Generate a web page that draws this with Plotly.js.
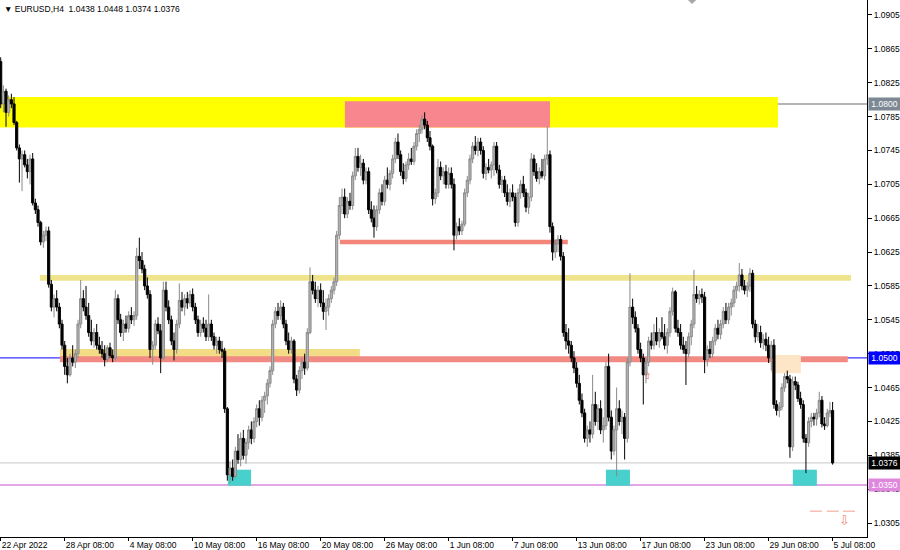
<!DOCTYPE html>
<html>
<head>
<meta charset="utf-8">
<script src="https://cdn.plot.ly/plotly-3.0.1.min.js"></script>
<style>html,body{margin:0;padding:0;background:#fff;}#chart{width:900px;height:550px;}</style>
</head>
<body>
<div id="chart"></div>
<script>
// EURUSD H4, 22 Apr 2022 08:00 .. 5 Jul 2022 08:00 (313 bars)
const open = [
1.0850,1.0800,1.0815,1.0790,1.0805,1.0800,1.0778,1.0748,1.0735,1.0740,
1.0728,1.0720,1.0735,1.0683,1.0675,1.0660,1.0637,1.0645,1.0650,1.0587,
1.0560,1.0570,1.0560,1.0540,1.0515,1.0490,1.0480,1.0500,1.0495,1.0505,
1.0540,1.0570,1.0560,1.0550,1.0530,1.0520,1.0530,1.0515,1.0510,1.0505,
1.0498,1.0512,1.0503,1.0500,1.0570,1.0545,1.0530,1.0540,1.0535,1.0550,
1.0545,1.0550,1.0620,1.0615,1.0605,1.0585,1.0575,1.0510,1.0515,1.0540,
1.0532,1.0500,1.0580,1.0560,1.0545,1.0520,1.0510,1.0540,1.0568,1.0560,
1.0570,1.0565,1.0575,1.0560,1.0545,1.0530,1.0540,1.0535,1.0525,1.0540,
1.0525,1.0515,1.0520,1.0510,1.0508,1.0440,1.0362,1.0370,1.0360,1.0390,
1.0380,1.0405,1.0385,1.0400,1.0415,1.0405,1.0425,1.0440,1.0430,1.0450,
1.0455,1.0470,1.0485,1.0540,1.0555,1.0550,1.0560,1.0540,1.0520,1.0510,
1.0520,1.0475,1.0462,1.0485,1.0495,1.0488,1.0530,1.0590,1.0580,1.0570,
1.0580,1.0565,1.0555,1.0560,1.0570,1.0580,1.0590,1.0645,1.0680,1.0690,
1.0670,1.0685,1.0680,1.0715,1.0738,1.0725,1.0730,1.0710,1.0720,1.0675,
1.0665,1.0655,1.0675,1.0695,1.0685,1.0710,1.0705,1.0718,1.0735,1.0755,
1.0740,1.0720,1.0712,1.0728,1.0735,1.0732,1.0750,1.0765,1.0770,1.0782,
1.0775,1.0760,1.0750,1.0688,1.0695,1.0725,1.0715,1.0720,1.0705,1.0718,
1.0705,1.0645,1.0655,1.0650,1.0658,1.0695,1.0710,1.0735,1.0750,1.0745,
1.0755,1.0745,1.0718,1.0725,1.0722,1.0728,1.0750,1.0722,1.0705,1.0710,
1.0695,1.0685,1.0695,1.0690,1.0660,1.0695,1.0705,1.0695,1.0678,1.0690,
1.0735,1.0720,1.0712,1.0720,1.0715,1.0735,1.0740,1.0655,1.0625,1.0635,
1.0640,1.0620,1.0530,1.0520,1.0515,1.0500,1.0488,1.0470,1.0450,1.0435,
1.0405,1.0415,1.0410,1.0445,1.0425,1.0440,1.0415,1.0420,1.0490,1.0430,
1.0390,1.0415,1.0440,1.0425,1.0430,1.0405,1.0495,1.0560,1.0548,1.0535,
1.0510,1.0500,1.0480,1.0495,1.0520,1.0515,1.0530,1.0520,1.0530,1.0525,
1.0515,1.0530,1.0555,1.0578,1.0535,1.0530,1.0515,1.0510,1.0505,1.0525,
1.0540,1.0575,1.0570,1.0575,1.0572,1.0498,1.0510,1.0505,1.0520,1.0535,
1.0528,1.0540,1.0555,1.0545,1.0560,1.0565,1.0580,1.0585,1.0598,1.0585,
1.0580,1.0585,1.0600,1.0540,1.0525,1.0530,1.0518,1.0522,1.0515,1.0500,
1.0515,1.0445,1.0438,1.0442,1.0465,1.0478,1.0475,1.0395,1.0472,1.0468,
1.0452,1.0445,1.0405,1.0400,1.0425,1.0430,1.0428,1.0435,1.0450,1.0422,
1.0420,1.0435,1.0438
];
const high = [
1.0855,1.0822,1.0818,1.0810,1.0812,1.0808,1.0780,1.0752,1.0745,1.0745,
1.0735,1.0740,1.0742,1.0688,1.0680,1.0662,1.0650,1.0655,1.0655,1.0592,
1.0575,1.0580,1.0565,1.0545,1.0520,1.0500,1.0505,1.0515,1.0510,1.0545,
1.0592,1.0580,1.0585,1.0565,1.0545,1.0535,1.0540,1.0525,1.0520,1.0515,
1.0515,1.0518,1.0510,1.0580,1.0575,1.0552,1.0545,1.0550,1.0555,1.0560,
1.0555,1.0630,1.0642,1.0625,1.0610,1.0595,1.0580,1.0520,1.0545,1.0548,
1.0540,1.0590,1.0590,1.0568,1.0550,1.0530,1.0545,1.0588,1.0578,1.0575,
1.0578,1.0580,1.0582,1.0565,1.0550,1.0545,1.0548,1.0545,1.0575,1.0545,
1.0530,1.0525,1.0525,1.0520,1.0512,1.0442,1.0378,1.0380,1.0395,1.0410,
1.0412,1.0415,1.0405,1.0420,1.0425,1.0430,1.0445,1.0450,1.0455,1.0460,
1.0475,1.0490,1.0545,1.0560,1.0565,1.0568,1.0565,1.0545,1.0530,1.0525,
1.0522,1.0480,1.0490,1.0500,1.0505,1.0535,1.0607,1.0598,1.0590,1.0585,
1.0588,1.0580,1.0570,1.0575,1.0585,1.0595,1.0650,1.0690,1.0700,1.0700,
1.0690,1.0695,1.0720,1.0748,1.0748,1.0740,1.0735,1.0725,1.0725,1.0685,
1.0680,1.0680,1.0700,1.0705,1.0715,1.0725,1.0722,1.0740,1.0760,1.0765,
1.0745,1.0730,1.0732,1.0742,1.0748,1.0755,1.0770,1.0775,1.0787,1.0790,
1.0780,1.0768,1.0752,1.0700,1.0735,1.0732,1.0725,1.0728,1.0725,1.0725,
1.0712,1.0660,1.0665,1.0662,1.0700,1.0715,1.0740,1.0755,1.0762,1.0760,
1.0760,1.0750,1.0730,1.0735,1.0732,1.0755,1.0755,1.0728,1.0715,1.0715,
1.0705,1.0700,1.0705,1.0695,1.0700,1.0710,1.0715,1.0700,1.0695,1.0742,
1.0740,1.0730,1.0725,1.0735,1.0740,1.0773,1.0745,1.0660,1.0640,1.0645,
1.0645,1.0625,1.0540,1.0535,1.0520,1.0508,1.0495,1.0480,1.0458,1.0440,
1.0420,1.0425,1.0480,1.0460,1.0445,1.0450,1.0430,1.0495,1.0505,1.0438,
1.0420,1.0465,1.0450,1.0438,1.0435,1.0500,1.0600,1.0570,1.0555,1.0540,
1.0518,1.0505,1.0500,1.0525,1.0530,1.0540,1.0548,1.0535,1.0548,1.0540,
1.0535,1.0560,1.0583,1.0580,1.0545,1.0540,1.0525,1.0520,1.0530,1.0545,
1.0604,1.0585,1.0580,1.0582,1.0578,1.0515,1.0520,1.0525,1.0540,1.0545,
1.0545,1.0560,1.0565,1.0565,1.0570,1.0585,1.0590,1.0612,1.0605,1.0592,
1.0590,1.0606,1.0604,1.0545,1.0540,1.0538,1.0528,1.0530,1.0525,1.0520,
1.0522,1.0450,1.0448,1.0470,1.0482,1.0485,1.0480,1.0478,1.0478,1.0472,
1.0460,1.0450,1.0410,1.0430,1.0435,1.0435,1.0440,1.0460,1.0455,1.0430,
1.0440,1.0448,1.0448
];
const low = [
1.0795,1.0790,1.0773,1.0785,1.0795,1.0775,1.0745,1.0707,1.0697,1.0725,
1.0712,1.0705,1.0680,1.0670,1.0655,1.0633,1.0630,1.0638,1.0583,1.0555,
1.0548,1.0555,1.0535,1.0510,1.0480,1.0470,1.0478,1.0490,1.0488,1.0500,
1.0535,1.0555,1.0545,1.0525,1.0515,1.0512,1.0510,1.0505,1.0500,1.0490,
1.0495,1.0500,1.0495,1.0497,1.0540,1.0525,1.0520,1.0530,1.0530,1.0540,
1.0538,1.0545,1.0605,1.0600,1.0580,1.0570,1.0500,1.0492,1.0510,1.0528,
1.0482,1.0498,1.0555,1.0540,1.0515,1.0497,1.0505,1.0535,1.0555,1.0550,
1.0558,1.0560,1.0555,1.0540,1.0525,1.0525,1.0530,1.0520,1.0520,1.0520,
1.0510,1.0505,1.0505,1.0500,1.0435,1.0355,1.0352,1.0355,1.0358,1.0375,
1.0372,1.0380,1.0375,1.0392,1.0398,1.0400,1.0418,1.0420,1.0425,1.0435,
1.0445,1.0465,1.0480,1.0535,1.0545,1.0545,1.0535,1.0515,1.0505,1.0505,
1.0470,1.0455,1.0458,1.0475,1.0480,1.0485,1.0528,1.0575,1.0565,1.0560,
1.0560,1.0545,1.0533,1.0550,1.0565,1.0575,1.0585,1.0640,1.0670,1.0665,
1.0665,1.0675,1.0675,1.0710,1.0720,1.0715,1.0705,1.0705,1.0670,1.0660,
1.0642,1.0650,1.0670,1.0680,1.0680,1.0700,1.0698,1.0712,1.0730,1.0735,
1.0715,1.0705,1.0708,1.0722,1.0728,1.0728,1.0745,1.0755,1.0765,1.0770,
1.0755,1.0745,1.0680,1.0682,1.0690,1.0710,1.0705,1.0700,1.0700,1.0700,
1.0627,1.0640,1.0645,1.0645,1.0655,1.0690,1.0705,1.0730,1.0740,1.0738,
1.0740,1.0712,1.0710,1.0718,1.0712,1.0715,1.0718,1.0700,1.0695,1.0690,
1.0680,1.0678,1.0685,1.0655,1.0655,1.0688,1.0690,1.0672,1.0670,1.0685,
1.0715,1.0708,1.0705,1.0712,1.0710,1.0728,1.0648,1.0615,1.0618,1.0625,
1.0615,1.0525,1.0510,1.0505,1.0495,1.0482,1.0465,1.0445,1.0430,1.0400,
1.0395,1.0400,1.0405,1.0420,1.0415,1.0410,1.0400,1.0415,1.0425,1.0380,
1.0385,1.0360,1.0420,1.0410,1.0380,1.0400,1.0490,1.0540,1.0530,1.0505,
1.0495,1.0445,1.0470,1.0490,1.0510,1.0510,1.0515,1.0512,1.0522,1.0510,
1.0505,1.0525,1.0550,1.0530,1.0525,1.0510,1.0505,1.0468,1.0500,1.0515,
1.0535,1.0565,1.0563,1.0565,1.0482,1.0490,1.0500,1.0500,1.0515,1.0522,
1.0522,1.0535,1.0540,1.0540,1.0550,1.0560,1.0570,1.0578,1.0580,1.0575,
1.0572,1.0578,1.0535,1.0518,1.0520,1.0512,1.0510,1.0508,1.0494,1.0485,
1.0440,1.0432,1.0430,1.0438,1.0460,1.0470,1.0382,1.0390,1.0462,1.0448,
1.0440,1.0400,1.0364,1.0395,1.0418,1.0420,1.0420,1.0430,1.0418,1.0415,
1.0418,1.0430,1.0374
];
const close = [
1.0800,1.0815,1.0790,1.0805,1.0800,1.0778,1.0748,1.0735,1.0740,1.0728,
1.0720,1.0735,1.0683,1.0675,1.0660,1.0637,1.0645,1.0650,1.0587,1.0560,
1.0570,1.0560,1.0540,1.0515,1.0490,1.0480,1.0500,1.0495,1.0505,1.0540,
1.0570,1.0560,1.0550,1.0530,1.0520,1.0530,1.0515,1.0510,1.0505,1.0498,
1.0512,1.0503,1.0500,1.0570,1.0545,1.0530,1.0540,1.0535,1.0550,1.0545,
1.0550,1.0620,1.0615,1.0605,1.0585,1.0575,1.0510,1.0515,1.0540,1.0532,
1.0500,1.0580,1.0560,1.0545,1.0520,1.0510,1.0540,1.0568,1.0560,1.0570,
1.0565,1.0575,1.0560,1.0545,1.0530,1.0540,1.0535,1.0525,1.0540,1.0525,
1.0515,1.0520,1.0510,1.0508,1.0440,1.0362,1.0370,1.0360,1.0390,1.0380,
1.0405,1.0385,1.0400,1.0415,1.0405,1.0425,1.0440,1.0430,1.0450,1.0455,
1.0470,1.0485,1.0540,1.0555,1.0550,1.0560,1.0540,1.0520,1.0510,1.0520,
1.0475,1.0462,1.0485,1.0495,1.0488,1.0530,1.0590,1.0580,1.0570,1.0580,
1.0565,1.0555,1.0560,1.0570,1.0580,1.0590,1.0645,1.0680,1.0690,1.0670,
1.0685,1.0680,1.0715,1.0738,1.0725,1.0730,1.0710,1.0720,1.0675,1.0665,
1.0655,1.0675,1.0695,1.0685,1.0710,1.0705,1.0718,1.0735,1.0755,1.0740,
1.0720,1.0712,1.0728,1.0735,1.0732,1.0750,1.0765,1.0770,1.0782,1.0775,
1.0760,1.0750,1.0688,1.0695,1.0725,1.0715,1.0720,1.0705,1.0718,1.0705,
1.0645,1.0655,1.0650,1.0658,1.0695,1.0710,1.0735,1.0750,1.0745,1.0755,
1.0745,1.0718,1.0725,1.0722,1.0728,1.0750,1.0722,1.0705,1.0710,1.0695,
1.0685,1.0695,1.0690,1.0660,1.0695,1.0705,1.0695,1.0678,1.0690,1.0735,
1.0720,1.0712,1.0720,1.0715,1.0735,1.0740,1.0655,1.0625,1.0635,1.0640,
1.0620,1.0530,1.0520,1.0515,1.0500,1.0488,1.0470,1.0450,1.0435,1.0405,
1.0415,1.0410,1.0445,1.0425,1.0440,1.0415,1.0420,1.0490,1.0430,1.0390,
1.0415,1.0440,1.0425,1.0430,1.0405,1.0495,1.0560,1.0548,1.0535,1.0510,
1.0500,1.0480,1.0495,1.0520,1.0515,1.0530,1.0520,1.0530,1.0525,1.0515,
1.0530,1.0555,1.0578,1.0535,1.0530,1.0515,1.0510,1.0505,1.0525,1.0540,
1.0575,1.0570,1.0575,1.0572,1.0498,1.0510,1.0505,1.0520,1.0535,1.0528,
1.0540,1.0555,1.0545,1.0560,1.0565,1.0580,1.0585,1.0598,1.0585,1.0580,
1.0585,1.0600,1.0540,1.0525,1.0530,1.0518,1.0522,1.0515,1.0500,1.0515,
1.0445,1.0438,1.0442,1.0465,1.0478,1.0475,1.0395,1.0472,1.0468,1.0452,
1.0445,1.0405,1.0400,1.0425,1.0430,1.0428,1.0435,1.0450,1.0422,1.0420,
1.0435,1.0438,1.0376
];
const xTickLabels = ["22 Apr 2022","28 Apr 08:00","4 May 08:00","10 May 08:00","16 May 08:00","20 May 08:00","26 May 08:00","1 Jun 08:00","7 Jun 08:00","13 Jun 08:00","17 Jun 08:00","23 Jun 08:00","29 Jun 08:00","5 Jul 08:00"];
const yTickValues = [1.0305,1.0345,1.0385,1.0425,1.0465,1.0505,1.0545,1.0585,1.0625,1.0665,1.0705,1.0745,1.0785,1.0825,1.0865,1.0905];
const levelPrices = [1.0800, 1.0500, 1.0376, 1.0350];
const titleText = "\u25BC EURUSD,H4  1.0438 1.0448 1.0374 1.0376";

const barsPerLabel = 24;
const barIndex = close.map((_, i) => i);
const xTickVals = xTickLabels.map((_, k) => k * barsPerLabel);

const FONT = "Liberation Sans, Arial, sans-serif";

const trace = {
  type: 'candlestick',
  x: barIndex, open: open, high: high, low: low, close: close,
  increasing: {line: {color: '#8a8a8a', width: 1}, fillcolor: '#b4b4b4'},
  decreasing: {line: {color: '#000000', width: 1}, fillcolor: '#000000'},
  whiskerwidth: 0,
  hoverinfo: 'skip',
  showlegend: false
};

function rect(x0, x1, y0, y1, color, xref) {
  return {type: 'rect', xref: xref || 'x', yref: 'y', x0: x0, x1: x1, y0: y0, y1: y1,
          fillcolor: color, line: {width: 0}, layer: 'below'};
}
function hline(x0, x1, y, color, w, xref, dash) {
  return {type: 'line', xref: xref || 'x', yref: 'y', x0: x0, x1: x1, y0: y, y1: y,
          line: {color: color, width: w, dash: dash || 'solid'}, layer: 'below'};
}

const shapes = [
  rect(-2, 291.5, 1.0772, 1.0808, '#ffff00'),
  rect(129.1, 206.0, 1.0772, 1.0803, '#f7868f'),
  hline(0, 1, levelPrices[0], '#9c9c9c', 1.5, 'paper'),
  hline(127.2, 212.7, 1.0637, '#f3857b', 4.5),
  rect(14.7, 318.9, 1.0591, 1.0598, '#efe38c'),
  rect(22.2, 134.7, 1.0501, 1.05105, '#f2dc86'),
  rect(22.2, 317.7, 1.04948, 1.0502, '#f28a84'),
  rect(288.9, 300.1, 1.0482, 1.05035, '#fde6c8'),
  rect(85.2, 93.9, 1.0349, 1.0368, '#48d1cc'),
  rect(227.0, 236.0, 1.0349, 1.0368, '#48d1cc'),
  rect(297.1, 306.1, 1.0349, 1.0368, '#48d1cc'),
  hline(0, 1, levelPrices[1], '#0000ff', 1, 'paper'),
  hline(0, 1, levelPrices[2], '#c8c8c8', 1, 'paper'),
  hline(0, 1, levelPrices[3], '#dd88dd', 1.5, 'paper'),
  hline(303.5, 308.0, 1.0319, '#f0a090', 1),
  hline(309.8, 314.3, 1.0319, '#f0a090', 1),
  hline(315.9, 320.4, 1.0319, '#f0a090', 1),
  {type: 'path', xref: 'paper', yref: 'paper', path: 'M 0.7935 1 L 0.8030 1 L 0.7982 0.9925 Z',
   fillcolor: '#a8a8a8', line: {width: 0}}
];

function priceBox(y, bg) {
  return {xref: 'paper', yref: 'y', x: 1, y: y, xanchor: 'left', yanchor: 'middle', xshift: 1,
          text: y.toFixed(4), showarrow: false, bgcolor: bg, borderpad: 1, width: 29,
          font: {family: FONT, size: 8.5, color: '#ffffff'}};
}

const annotations = [
  {xref: 'paper', yref: 'paper', x: 0, y: 1, xanchor: 'left', yanchor: 'top', xshift: 2, yshift: -2,
   text: titleText, showarrow: false, font: {family: FONT, size: 8.5, color: '#000'}},
  priceBox(levelPrices[0], '#7c8994'),
  priceBox(levelPrices[1], '#0000ff'),
  priceBox(levelPrices[2], '#000000'),
  priceBox(levelPrices[3], '#dd88dd'),
  {xref: 'x', yref: 'y', x: 316.5, y: 1.0308, text: '\u21E9', showarrow: false,
   font: {family: 'DejaVu Sans', size: 13, color: '#f08a78'}},
  {xref: 'x', yref: 'y', x: 242.7, y: 1.0479, text: '\u21E7', showarrow: false,
   font: {family: 'DejaVu Sans', size: 9, color: '#e05050'}}
];

const layout = {
  width: 900, height: 550,
  margin: {l: 0, r: 33, t: 0, b: 13, pad: 0},
  paper_bgcolor: '#ffffff', plot_bgcolor: '#ffffff',
  font: {family: FONT, size: 8.5, color: '#000'},
  showlegend: false,
  boxgap: 0.2, boxgroupgap: 0,
  xaxis: {
    type: 'linear', range: [-0.26, 324.9], fixedrange: true,
    rangeslider: {visible: false},
    tickmode: 'array', tickvals: xTickVals, ticktext: xTickLabels,
    ticks: 'outside', ticklen: 3, tickcolor: '#000', tickwidth: 1,
    ticklabelposition: 'outside right',
    showline: true, linecolor: '#000', linewidth: 1,
    showgrid: false, zeroline: false,
    tickfont: {family: FONT, size: 8.5, color: '#000'}
  },
  yaxis: {
    side: 'right', range: [1.02885, 1.09227], fixedrange: true,
    tickmode: 'array', tickvals: yTickValues, tickformat: '.4f',
    ticks: 'outside', ticklen: 4, tickcolor: '#000', tickwidth: 1,
    showline: true, linecolor: '#000', linewidth: 1,
    showgrid: false, zeroline: false,
    tickfont: {family: FONT, size: 8.5, color: '#000'}
  },
  shapes: shapes,
  annotations: annotations
};

Plotly.newPlot('chart', [trace], layout, {displayModeBar: false, staticPlot: true});
</script>
</body>
</html>
